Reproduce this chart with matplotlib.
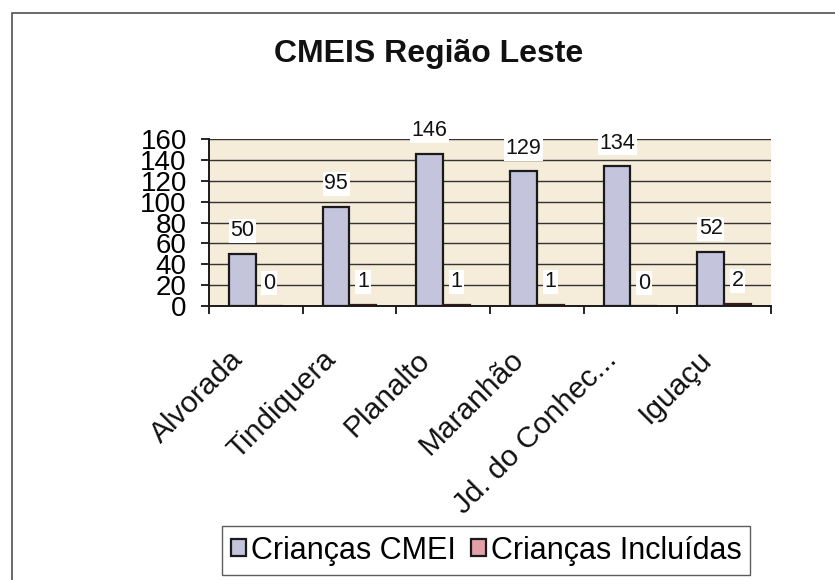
import matplotlib
matplotlib.use("Agg")
import matplotlib.pyplot as plt
import matplotlib.transforms as mtransforms
from matplotlib.patches import Rectangle
import numpy as np

# data
categories = ["Alvorada", "Tindiquera", "Planalto", "Maranhão", "Jd. do Conhec...", "Iguaçu"]
criancas_cmei = [50, 95, 146, 129, 134, 52]
criancas_incluidas = [0, 1, 1, 1, 0, 2]
series_names = ["Crianças CMEI", "Crianças Incluídas"]
y_ticks = [0, 20, 40, 60, 80, 100, 120, 140, 160]
title = "CMEIS Região Leste"

plt.rcParams["font.family"] = ["Liberation Sans", "DejaVu Sans"]

blue = "#c4c4dc"
pink = "#e4a0a8"
beige = "#f5ecda"

fig = plt.figure(figsize=(8.35, 5.8), dpi=100)
W, H = 835, 580

# outer chart frame
fig.patches.append(Rectangle((12 / W, -0.1), 2.0, 1 - 13 / H + 0.1, transform=fig.transFigure,
                             fill=False, edgecolor="#505050", linewidth=1.2))

ax = fig.add_axes([209 / W, 1 - 306 / H, (771 - 209) / W, (306 - 139) / H])
ax.set_facecolor(beige)

x = np.arange(len(categories))
bw = 0.286
b1 = ax.bar(x - bw / 2, criancas_cmei, bw, color=blue, edgecolor="#1a1a1a", linewidth=1.6, zorder=3)
b2 = ax.bar(x + bw / 2, criancas_incluidas, bw, color=pink, edgecolor="#3a1a1a", linewidth=1.6, zorder=3)

ax.set_xlim(-0.5, len(categories) - 0.5)
ax.set_ylim(0, 160)
ax.set_yticks(y_ticks)
ax.set_yticklabels([str(v) for v in y_ticks], fontsize=20)
ax.yaxis.grid(True, color="#333333", linewidth=1.0, zorder=1)
ax.set_axisbelow(True)

for s in ["top", "right"]:
    ax.spines[s].set_visible(False)
for s in ["left", "bottom"]:
    ax.spines[s].set_linewidth(1.4)
    ax.spines[s].set_color("#1a1a1a")
    ax.spines[s].set_zorder(4)

ax.tick_params(axis="y", length=6, width=1.2, pad=10, direction="out")

# ticks between categories, labels rotated at centers
ax.set_xticks(np.arange(-0.5, len(categories)), minor=True)
ax.set_xticks(x)
ax.set_xticklabels([])
ax.tick_params(axis="x", which="major", length=0)
ax.tick_params(axis="x", which="minor", length=6, width=1.2, direction="out")

lbl_tr = mtransforms.blended_transform_factory(ax.transData, ax.transAxes) + \
    mtransforms.ScaledTranslation(-12 / 100, -55 / 100, fig.dpi_scale_trans)
for xi, name in zip(x, categories):
    ax.text(xi, 0, name, transform=lbl_tr, rotation=45, rotation_mode="anchor",
            ha="right", va="baseline", fontsize=21.5, color="#111111")

# data labels
off = mtransforms.ScaledTranslation(0, 23 / 100, fig.dpi_scale_trans)
for bars in (b1, b2):
    for r in bars:
        h = r.get_height()
        ax.text(r.get_x() + r.get_width() / 2, h, f"{h:g}", transform=ax.transData + off,
                ha="center", va="center", fontsize=15.5, color="#111111", zorder=5,
                bbox=dict(boxstyle="square,pad=0.08", facecolor="white", edgecolor="none"))

fig.text(429 / W, 1 - 54 / H, title, ha="center", va="center", fontsize=23, fontweight="bold",
         color="#111111")

handles = [Rectangle((0, 0), 1, 1, facecolor=blue, edgecolor="#1a1a1a", linewidth=1.6),
           Rectangle((0, 0), 1, 1, facecolor=pink, edgecolor="#1a1a1a", linewidth=1.6)]
leg = fig.legend(handles, series_names, loc="center", bbox_to_anchor=(486 / W, 1 - 550.5 / H),
                 ncol=2, fontsize=22, frameon=True, fancybox=False, handlelength=0.5,
                 handleheight=0.5, handletextpad=0.15, columnspacing=0.5, borderpad=0.3,
                 borderaxespad=0)
leg.get_frame().set_edgecolor("#333333")
leg.get_frame().set_linewidth(1.0)

fig.savefig("out.png", dpi=100, facecolor="white")
